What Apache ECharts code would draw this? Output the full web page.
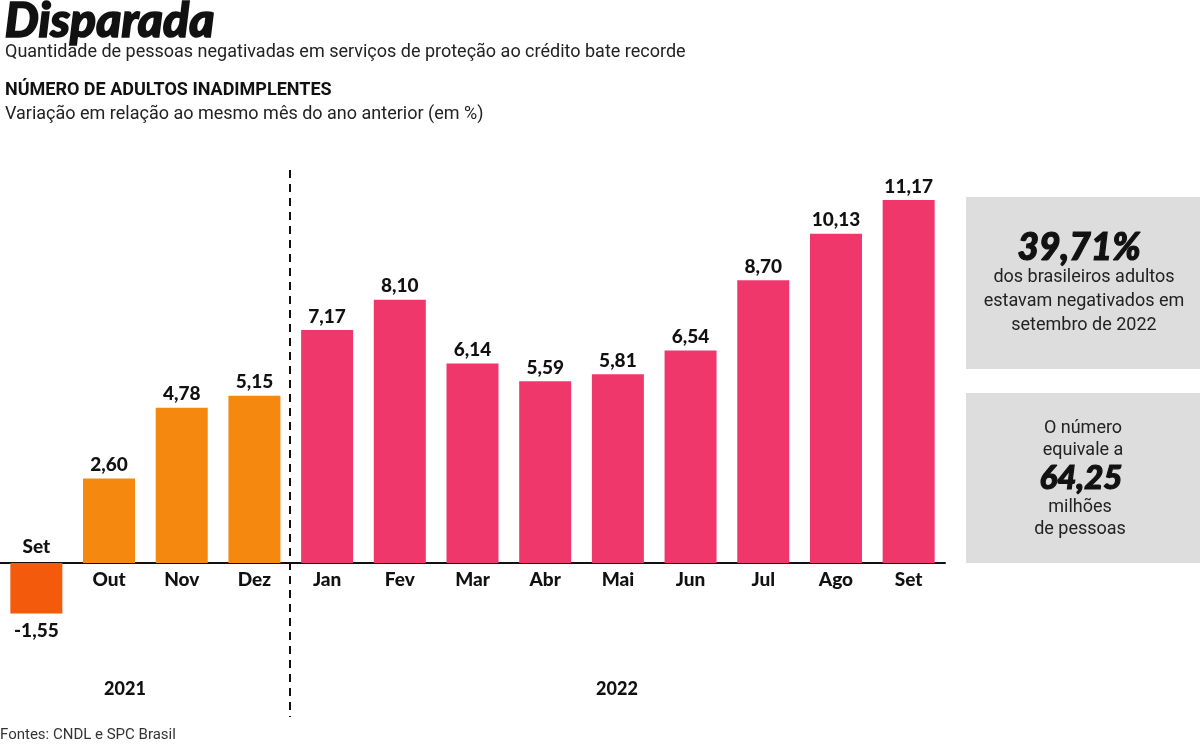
<!DOCTYPE html>
<html><head><meta charset="utf-8">
<script src="https://cdn.jsdelivr.net/npm/echarts@6/dist/echarts.min.js"></script>
<style>html,body{margin:0;padding:0;background:#fff}#c{width:1200px;height:747px}</style>
</head><body><div id="c"></div>
<script>
const categories = ['Set','Out','Nov','Dez','Jan','Fev','Mar','Abr','Mai','Jun','Jul','Ago','Set'];
const values = [-1.55, 2.60, 4.78, 5.15, 7.17, 8.10, 6.14, 5.59, 5.81, 6.54, 8.70, 10.13, 11.17];
const years = ['2021','2022'];
const barColors = ['#f45a0c','#f5880f','#f5880f','#f5880f','#ef376c','#ef376c','#ef376c','#ef376c','#ef376c','#ef376c','#ef376c','#ef376c','#ef376c'];

const fmt = v => v.toFixed(2).replace('.', ',');
const LF = 'Lato, "Open Sans", sans-serif';
const NF = '"Liberation Sans Narrow", "Roboto", sans-serif';

const chart = echarts.init(document.getElementById('c'));
chart.setOption({
  animation: false,
  grid: {left: 0, width: 945, top: 173, height: 520},
  xAxis: {
    type: 'category', data: categories,
    axisLine: {show: true, onZero: true, lineStyle: {color: '#111', width: 2}},
    axisTick: {show: false}, axisLabel: {show: false}, splitLine: {show: false}
  },
  yAxis: {type: 'value', min: -4, max: 12, show: false, splitLine: {show: false}},
  series: [
    {
      type: 'bar', barWidth: 52, z: 2,
      data: values.map((v, i) => ({
        value: v,
        itemStyle: {color: barColors[i]},
        label: {show: true, position: v < 0 ? 'bottom' : 'top', distance: v < 0 ? 8 : 4,
          formatter: () => fmt(v), color: '#111', fontFamily: LF, fontWeight: 900, fontSize: 19}
      }))
    },
    {
      type: 'bar', barWidth: 52, barGap: '-100%', z: 3,
      data: values.map((v, i) => ({
        value: v,
        itemStyle: {color: 'rgba(0,0,0,0)'},
        label: {show: true, position: v < 0 ? 'top' : 'bottom', distance: 7,
          formatter: () => categories[i], color: '#111', fontFamily: LF, fontWeight: 900, fontSize: 19}
      }))
    }
  ],
  graphic: [
    {type: 'text', left: 4, top: -3, style: {text: 'Disparada', font: 'italic 900 48px ' + LF, fill: '#111', stroke: '#111', lineWidth: 1.6}},
    {type: 'text', left: 5, top: 43, style: {text: 'Quantidade de pessoas negativadas em serviços de proteção ao crédito bate recorde', font: '18px ' + NF, fill: '#222'}},
    {type: 'text', left: 5, top: 81, style: {text: 'NÚMERO DE ADULTOS INADIMPLENTES', font: 'bold 18px ' + NF, fill: '#111'}},
    {type: 'text', left: 5, top: 105, style: {text: 'Variação em relação ao mesmo mês do ano anterior (em %)', font: '18px ' + NF, fill: '#222'}},
    {type: 'line', shape: {x1: 290, y1: 170, x2: 290, y2: 717}, style: {stroke: '#111', lineWidth: 2, lineDash: [8, 6]}},
    {type: 'text', x: 125, y: 689, style: {text: years[0], font: '900 18px ' + LF, fill: '#111', align: 'center', verticalAlign: 'middle'}},
    {type: 'text', x: 617, y: 689, style: {text: years[1], font: '900 18px ' + LF, fill: '#111', align: 'center', verticalAlign: 'middle'}},
    {type: 'text', left: 0, top: 728, style: {text: 'Fontes: CNDL e SPC Brasil', font: '15px ' + NF, fill: '#333'}},
    {type: 'rect', shape: {x: 966, y: 197, width: 234, height: 172}, style: {fill: '#dddddd'}},
    {type: 'rect', shape: {x: 966, y: 393, width: 234, height: 170}, style: {fill: '#dddddd'}},
    {type: 'text', x: 1079, y: 248, style: {text: '39,71%', font: 'italic 900 37px ' + LF, fill: '#111', stroke: '#111', lineWidth: 1.2, align: 'center', verticalAlign: 'middle'}},
    {type: 'text', x: 1084, y: 301, style: {text: 'dos brasileiros adultos\nestavam negativados em\nsetembro de 2022', font: '18px ' + NF, lineHeight: 24, fill: '#222', align: 'center', verticalAlign: 'middle'}},
    {type: 'text', x: 1083, y: 439, style: {text: 'O número\nequivale a', font: '18px ' + NF, lineHeight: 22, fill: '#222', align: 'center', verticalAlign: 'middle'}},
    {type: 'text', x: 1081, y: 478, style: {text: '64,25', font: 'italic 900 33px ' + LF, fill: '#111', stroke: '#111', lineWidth: 1.2, align: 'center', verticalAlign: 'middle'}},
    {type: 'text', x: 1080, y: 518, style: {text: 'milhões\nde pessoas', font: '18px ' + NF, lineHeight: 22, fill: '#222', align: 'center', verticalAlign: 'middle'}}
  ]
});
</script></body></html>
